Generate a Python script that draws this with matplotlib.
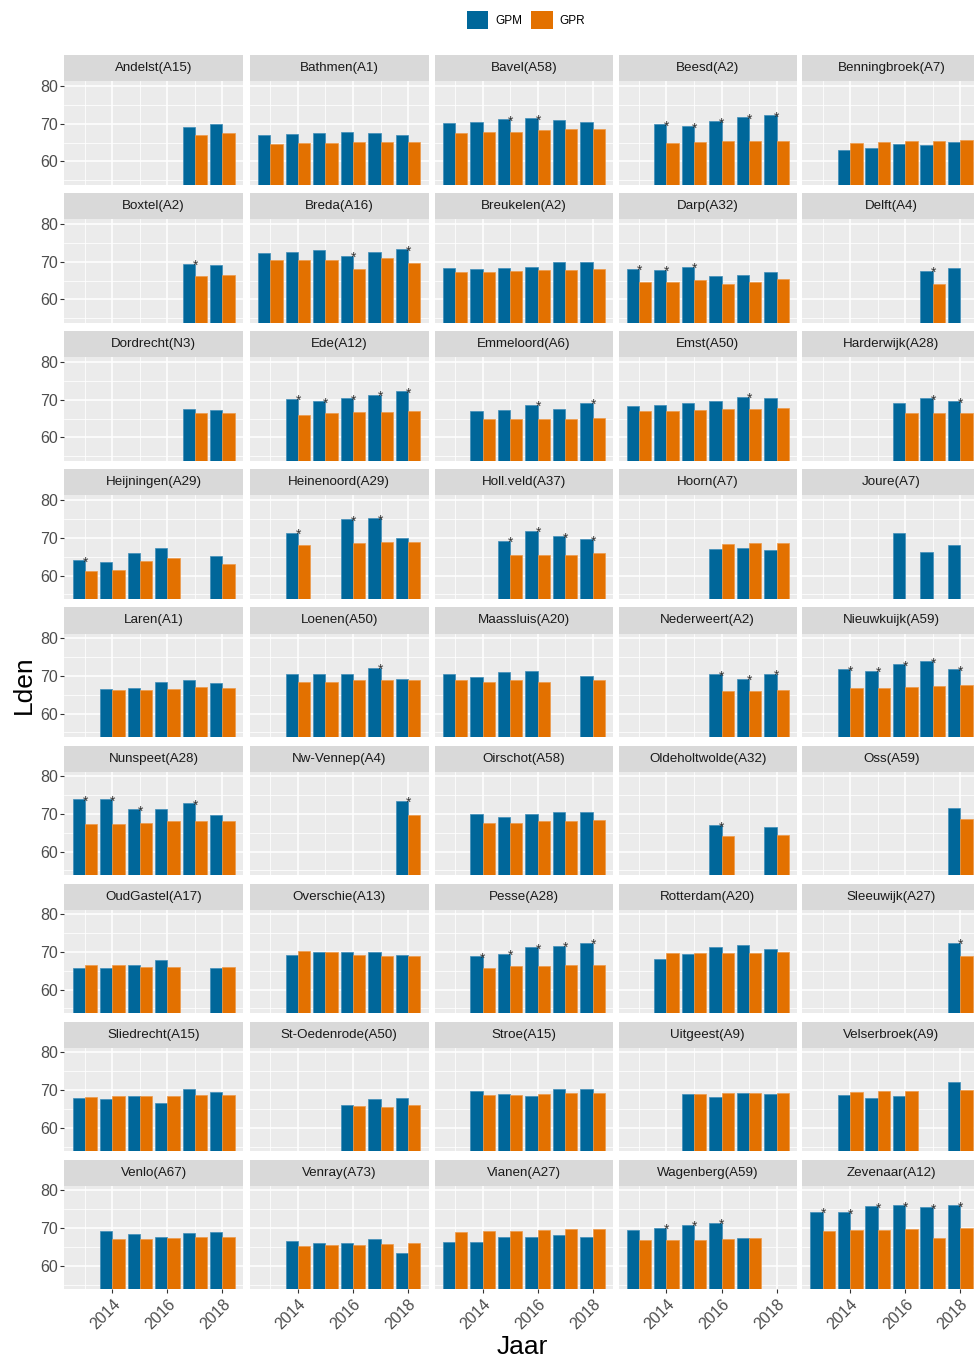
import numpy as np
import matplotlib
matplotlib.use("Agg")
import matplotlib.pyplot as plt
from matplotlib.patches import Patch

plt.rcParams['font.family'] = ['Liberation Sans', 'DejaVu Sans']

N = np.nan
years = [2013, 2014, 2015, 2016, 2017, 2018]

stations = [
    "Andelst(A15)", "Bathmen(A1)", "Bavel(A58)", "Beesd(A2)", "Benningbroek(A7)",
    "Boxtel(A2)", "Breda(A16)", "Breukelen(A2)", "Darp(A32)", "Delft(A4)",
    "Dordrecht(N3)", "Ede(A12)", "Emmeloord(A6)", "Emst(A50)", "Harderwijk(A28)",
    "Heijningen(A29)", "Heinenoord(A29)", "Holl.veld(A37)", "Hoorn(A7)", "Joure(A7)",
    "Laren(A1)", "Loenen(A50)", "Maassluis(A20)", "Nederweert(A2)", "Nieuwkuijk(A59)",
    "Nunspeet(A28)", "Nw-Vennep(A4)", "Oirschot(A58)", "Oldeholtwolde(A32)", "Oss(A59)",
    "OudGastel(A17)", "Overschie(A13)", "Pesse(A28)", "Rotterdam(A20)", "Sleeuwijk(A27)",
    "Sliedrecht(A15)", "St-Oedenrode(A50)", "Stroe(A15)", "Uitgeest(A9)", "Velserbroek(A9)",
    "Venlo(A67)", "Venray(A73)", "Vianen(A27)", "Wagenberg(A59)", "Zevenaar(A12)",
]

# Lden per year (2013..2018), measured (GPM)
gpm = [
    [N, N, N, N, 69.0, 69.8],
    [67.1, 67.2, 67.4, 67.7, 67.4, 66.9],
    [70.1, 70.4, 71.2, 71.4, 70.9, 70.4],
    [N, 69.8, 69.3, 70.6, 71.7, 72.2],
    [N, 63.1, 63.6, 64.7, 64.4, 65.2],
    [N, N, N, N, 69.5, 69.2],
    [72.2, 72.7, 73.0, 71.6, 72.7, 73.3],
    [68.4, 68.1, 68.4, 68.7, 70.0, 70.0],
    [68.1, 67.9, 68.7, 66.2, 66.5, 67.3],
    [N, N, N, N, 67.6, 68.4],
    [N, N, N, N, 67.6, 67.3],
    [N, 70.3, 69.7, 70.5, 71.3, 72.2],
    [N, 67.1, 67.3, 68.7, 67.6, 69.2],
    [68.4, 68.7, 69.2, 69.7, 70.8, 70.5],
    [N, N, N, 69.2, 70.5, 69.7],
    [64.1, 63.5, 65.9, 67.3, N, 65.1],
    [N, 71.4, N, 75.0, 75.2, 70.0],
    [N, N, 69.2, 71.9, 70.5, 69.7],
    [N, N, N, 67.1, 67.3, 66.8],
    [N, N, N, 71.2, 66.3, 68.1],
    [N, 66.5, 66.8, 68.5, 68.8, 68.2],
    [N, 70.6, 70.4, 70.6, 72.2, 69.3],
    [70.6, 69.8, 70.9, 71.2, N, 70.1],
    [N, N, N, 70.4, 69.3, 70.6],
    [N, 71.7, 71.4, 73.1, 73.9, 71.7],
    [73.9, 73.9, 71.2, 71.2, 72.8, 69.8],
    [N, N, N, N, N, 73.5],
    [N, 70.1, 69.3, 70.1, 70.6, 70.4],
    [N, N, N, 67.0, N, 66.5],
    [N, N, N, N, N, 71.6],
    [65.7, 65.7, 66.5, 67.9, N, 65.7],
    [N, 69.2, 70.0, 70.0, 70.0, 69.2],
    [N, 68.9, 69.5, 71.2, 71.7, 72.5],
    [N, 68.1, 69.5, 71.2, 71.9, 70.9],
    [N, N, N, N, N, 72.5],
    [68.0, 67.7, 68.5, 66.6, 70.4, 69.4],
    [N, N, N, 66.0, 67.7, 68.0],
    [N, 69.8, 69.0, 68.5, 70.4, 70.4],
    [N, N, 69.0, 68.2, 69.3, 69.0],
    [N, 68.8, 68.0, 68.5, N, 72.0],
    [N, 69.3, 68.5, 67.6, 68.8, 69.0],
    [N, 66.5, 66.0, 66.0, 67.1, 63.3],
    [66.3, 66.3, 67.6, 67.6, 68.2, 67.6],
    [69.5, 70.1, 70.9, 71.4, 67.3, N],
    [74.4, 74.2, 75.8, 76.0, 75.5, 76.0],
]

# Lden per year (2013..2018), computed (GPR)
gpr = [
    [N, N, N, N, 67.1, 67.4],
    [64.7, 65.0, 65.0, 65.2, 65.2, 65.2],
    [67.4, 67.7, 67.7, 68.2, 68.5, 68.5],
    [N, 65.0, 65.2, 65.5, 65.5, 65.5],
    [N, 65.0, 65.2, 65.5, 65.5, 65.8],
    [N, N, N, N, 66.2, 66.5],
    [70.5, 70.5, 70.5, 68.1, 71.1, 69.7],
    [67.3, 67.3, 67.6, 67.9, 67.9, 68.1],
    [64.6, 64.6, 65.1, 64.1, 64.6, 65.4],
    [N, N, N, N, 64.1, N],
    [N, N, N, N, 66.5, 66.5],
    [N, 65.9, 66.5, 66.8, 66.8, 67.1],
    [N, 64.9, 64.9, 64.9, 64.9, 65.1],
    [67.1, 67.1, 67.3, 67.6, 67.6, 67.9],
    [N, N, N, 66.5, 66.5, 66.5],
    [61.2, 61.4, 63.8, 64.6, N, 63.0],
    [N, 68.1, N, 68.7, 68.9, 68.9],
    [N, N, 65.4, 65.4, 65.4, 65.9],
    [N, N, N, 68.4, 68.7, 68.7],
    [N, N, N, N, N, N],
    [N, 66.3, 66.3, 66.5, 67.1, 66.8],
    [N, 68.5, 68.5, 68.8, 69.0, 69.0],
    [68.8, 68.5, 68.8, 68.5, N, 69.0],
    [N, N, N, 66.0, 66.0, 66.3],
    [N, 66.8, 66.8, 67.1, 67.3, 67.6],
    [67.3, 67.3, 67.6, 68.1, 68.1, 68.1],
    [N, N, N, N, N, 69.8],
    [N, 67.6, 67.6, 68.1, 68.1, 68.4],
    [N, N, N, 64.1, N, 64.3],
    [N, N, N, N, N, 68.7],
    [66.5, 66.5, 65.9, 65.9, N, 65.9],
    [N, 70.3, 70.0, 69.2, 68.9, 68.9],
    [N, 65.7, 66.2, 66.2, 66.5, 66.5],
    [N, 69.7, 69.7, 69.7, 69.7, 70.1],
    [N, N, N, N, N, 68.9],
    [68.2, 68.5, 68.5, 68.5, 68.8, 68.8],
    [N, N, N, 65.8, 65.5, 66.0],
    [N, 68.8, 68.8, 69.0, 69.3, 69.3],
    [N, N, 69.0, 69.3, 69.3, 69.3],
    [N, 69.6, 69.8, 69.8, N, 70.1],
    [N, 67.1, 67.1, 67.3, 67.6, 67.6],
    [N, 65.2, 65.5, 65.5, 65.8, 66.0],
    [69.0, 69.3, 69.3, 69.6, 69.8, 69.8],
    [66.8, 66.8, 66.8, 67.1, 67.3, N],
    [69.2, 69.5, 69.5, 69.7, 67.3, 70.1],
]

# years in which the GPM value is flagged with an asterisk
gpm_star = [
    [], [], [2015, 2016], [2014, 2015, 2016, 2017, 2018], [],
    [2017], [2016, 2018], [], [2013, 2014, 2015], [2017],
    [], [2014, 2015, 2016, 2017, 2018], [2016, 2018], [2017], [2017, 2018],
    [2013], [2014, 2016, 2017], [2015, 2016, 2017, 2018], [], [],
    [], [2017], [], [2016, 2017, 2018], [2014, 2015, 2016, 2017, 2018],
    [2013, 2014, 2015, 2017], [2018], [], [2016], [],
    [], [], [2014, 2015, 2016, 2017, 2018], [], [2018],
    [], [], [], [], [],
    [], [], [], [2014, 2015, 2016], [2013, 2014, 2015, 2016, 2017, 2018],
]

series_names = ["GPM", "GPR"]
BLUE = "#00679A"
ORANGE = "#E37100"

W, H = 974, 1363
fig = plt.figure(figsize=(W / 100, H / 100), dpi=100)

col_left = [64.4, 250.0, 434.6, 618.5, 802.3]
panel_w = 178.5
row_top0 = 81.3
row_step = 138.05
panel_h = 103.6
strip_h = 26.0
ncol = 5

x = np.array(years, dtype=float)
bw = 0.45

for i, name in enumerate(stations):
    r, c = divmod(i, ncol)
    top = row_top0 + r * row_step
    left = col_left[c]
    ax = fig.add_axes([left / W, 1 - (top + panel_h) / H, panel_w / W, panel_h / H])
    ax.set_facecolor("#EBEBEB")
    for s in ax.spines.values():
        s.set_visible(False)
    ax.set_xlim(2012.255, 2018.745)
    ax.set_ylim(53.75, 81.25)
    ax.set_xticks([2014, 2016, 2018])
    ax.set_xticks([2013, 2015, 2017], minor=True)
    ax.set_yticks([60, 70, 80])
    ax.set_yticks([55, 65, 75], minor=True)
    ax.grid(which="major", color="white", linewidth=1.1)
    ax.grid(which="minor", color="white", linewidth=0.55)
    ax.set_axisbelow(True)

    m = np.array(gpm[i], dtype=float)
    g = np.array(gpr[i], dtype=float)
    ok_m = ~np.isnan(m)
    ok_g = ~np.isnan(g)
    ax.bar(x[ok_m] - bw / 2, m[ok_m], width=bw, color=BLUE,
           edgecolor="#3F8DB8", linewidth=0.5)
    ax.bar(x[ok_g] + bw / 2, g[ok_g], width=bw, color=ORANGE,
           edgecolor="#EE9A4A", linewidth=0.5)

    for yr in gpm_star[i]:
        v = m[years.index(yr)]
        ax.annotate("*", xy=(yr, v), xytext=(0.3, -4.6), textcoords="offset points",
                    ha="center", va="baseline", fontsize=10, color="#333333",
                    annotation_clip=False)

    ax.tick_params(axis="both", which="minor", length=0)
    if c == 0:
        ax.tick_params(axis="y", which="major", length=2.9, width=0.8,
                       color="#333333", labelsize=11.5, labelcolor="#4D4D4D", pad=1.8)
    else:
        ax.tick_params(axis="y", which="major", length=0, labelleft=False)
    if r == 8:
        ax.tick_params(axis="x", which="major", length=2.9, width=0.8,
                       color="#333333", labelsize=11.5, labelcolor="#4D4D4D", pad=2.0)
        for lab in ax.get_xticklabels():
            lab.set_rotation(45)
            lab.set_ha("right")
            lab.set_va("top")
            lab.set_rotation_mode("anchor")
    else:
        ax.tick_params(axis="x", which="major", length=0, labelbottom=False)

    sax = fig.add_axes([left / W, 1 - top / H, panel_w / W, strip_h / H])
    sax.set_facecolor("#D9D9D9")
    for s in sax.spines.values():
        s.set_visible(False)
    sax.set_xticks([])
    sax.set_yticks([])
    sax.text(0.5, 0.5, name, ha="center", va="center", fontsize=9.6,
             color="#1A1A1A", transform=sax.transAxes)

fig.text(522 / W, 1 - 1347 / H, "Jaar", ha="center", va="center", fontsize=19,
         color="black")
fig.text(24 / W, 1 - 685 / H, "Lden", ha="center", va="center", rotation=90,
         fontsize=19, color="black")

handles = [Patch(facecolor=BLUE, edgecolor="none"), Patch(facecolor=ORANGE, edgecolor="none")]
fig.legend(handles, series_names, loc="center", bbox_to_anchor=(526 / W, 1 - 20 / H),
           ncol=2, frameon=False, fontsize=8.5, handlelength=1.85, handleheight=1.85,
           handletextpad=0.6, columnspacing=0.7, borderaxespad=0)

fig.savefig("out.png", dpi=100)
